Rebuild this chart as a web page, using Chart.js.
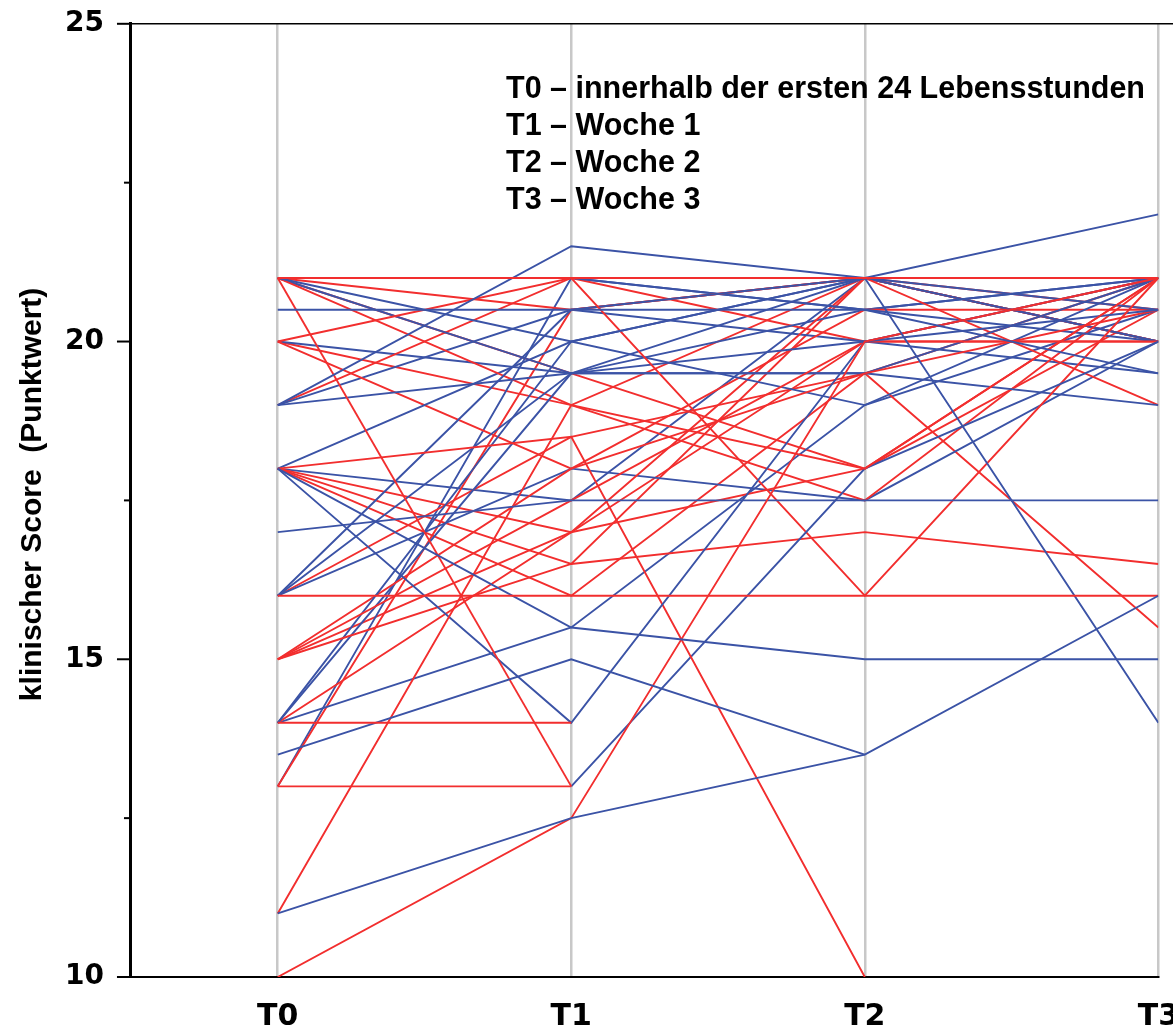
<!DOCTYPE html>
<html>
<head>
<meta charset="utf-8">
<script src="https://cdn.jsdelivr.net/npm/chart.js@4.4.0/dist/chart.umd.min.js"></script>
<style>
  html, body { margin: 0; padding: 0; background: #fff; overflow: hidden; }
  #wrap { position: absolute; left: 0; top: -20px; width: 1204px; height: 1077px; }
</style>
</head>
<body>
<div id="wrap"><canvas id="scoreChart"></canvas></div>
<script>
const timeLabels = ['T0', 'T1', 'T2', 'T3']
const yLabelTicks = [10, 15, 20, 25]
const yMinorTicks = [12.5, 17.5, 22.5]
const yTitle = 'klinischer Score  (Punktwert)'
const legendLines = [
  'T0 \u2013 innerhalb der ersten 24 Lebensstunden',
  'T1 \u2013 Woche 1',
  'T2 \u2013 Woche 2',
  'T3 \u2013 Woche 3'
]

// blue group, one entry per child (index = child), null = no value
const blueT0 = [11, 19, 20.5, 13.5, 18, 21, 17, 18, null, 16, 16, 14, 14, 19, 21, 18, 16, 19, 14, 21, 20, 13, 18]
const blueT1 = [12.5, 21.5, 20.5, 15, 15.5, 20, 17.5, 14, 13, 20.5, 19.5, 20, 19.5, 19.5, 21, 20, 18, 20.5, 15.5, 19.5, 19.5, 21, 17.5]
const blueT2 = [13.5, 21, 20.5, 13.5, 15, 21, 17.5, 20, 18, 21, 20, 21, 19.5, 19.5, 20.5, 19, 17.5, 20, 19, 20.5, 21, 20.5, 21]
const blueT3 = [16, 22, 19.5, null, 15, 14, 17.5, 21, 20, 21, 20.5, 20.5, 21, 19, 20, 21, 20, 19.5, 20.5, 21, 20, 21, 20]

// red group
const redT0 = [21, 16, 14, 13, 21, 10, 11, 18, 20, 15, 15, 15, 18, 21, 21, 14, 20, 18, 16, 19, 13, 21, 18, 15, 20]
const redT1 = [21, 16, 14, 13, 13, 12.5, 19, 18.5, 21, 16.5, 17.5, 18, 17, 20.5, 19, 17, 18, 16, 18.5, 21, 20.5, 19.5, 16.5, 17, 19]
const redT2 = [21, 16, null, null, null, 20, 18, 10, 16, 17, 20, 19.5, 18, 21, 17.5, 21, 20.5, 19.5, 19.5, 20, 21, 18, 21, 20, 21]
const redT3 = [21, 16, null, null, null, 21, 21, null, 21, 16.5, 20, 20.5, 21, 19, 21, 21, 20.5, 15.5, 21, 20, 20, 20.5, 20.5, 21, 20]

const blueColor = '#3b53a6'
const redColor = '#f22e2e'

function toPoints(cols, i){
  return cols.map((col, x) => ({ x: x, y: col[i] }))
}

let datasets = []
let n = Math.max(blueT0.length, redT0.length)
for (let i = 0; i < n; i++) {
  if (i < blueT0.length) {
    datasets.push({
      data: toPoints([blueT0, blueT1, blueT2, blueT3], i),
      borderColor: blueColor,
      borderWidth: 1.9,
      pointRadius: 0,
      spanGaps: false
    })
  }
  if (i < redT0.length) {
    datasets.push({
      data: toPoints([redT0, redT1, redT2, redT3], i),
      borderColor: redColor,
      borderWidth: 1.9,
      pointRadius: 0,
      spanGaps: false
    })
  }
}

// frame line on top, tick marks and title of the y axis, explanation text
const decor = {
  id: 'decor',
  afterDraw(chart) {
    const ctx = chart.ctx
    const area = chart.chartArea
    const y = chart.scales.y
    ctx.save()
    ctx.strokeStyle = '#000'
    ctx.lineWidth = 1.5
    ctx.beginPath()
    ctx.moveTo(area.left, area.top)
    ctx.lineTo(chart.width, area.top)
    ctx.stroke()

    ctx.lineWidth = 2
    yLabelTicks.forEach(v => {
      let py = y.getPixelForValue(v)
      ctx.beginPath()
      ctx.moveTo(area.left - 14, py)
      ctx.lineTo(area.left, py)
      ctx.stroke()
    })
    yMinorTicks.forEach(v => {
      let py = y.getPixelForValue(v)
      ctx.beginPath()
      ctx.moveTo(area.left - 7, py)
      ctx.lineTo(area.left, py)
      ctx.stroke()
    })

    ctx.fillStyle = '#000'
    ctx.font = 'bold 30.5px "Liberation Sans", Arial, sans-serif'
    ctx.textBaseline = 'middle'
    legendLines.forEach((line, k) => {
      ctx.fillText(line, 506, area.top + 66 + k * 37)
    })

    ctx.font = 'bold 30px "Liberation Sans", Arial, sans-serif'
    ctx.textAlign = 'center'
    ctx.translate(33, (area.top + area.bottom) / 2 - 6)
    ctx.rotate(-Math.PI / 2)
    ctx.fillText(yTitle, 0, 0)
    ctx.restore()
  }
}

const scoreChart = new Chart(document.getElementById('scoreChart'), {
  type: 'line',
  data: { datasets: datasets },
  options: {
    responsive: true,
    maintainAspectRatio: false,
    animation: false,
    layout: { padding: { top: -10, right: -17, left: 38, bottom: 0 } },
    plugins: { legend: { display: false }, tooltip: { enabled: false } },
    scales: {
      x: {
        type: 'linear',
        min: -0.5,
        max: 3,
        afterBuildTicks: axis => { axis.ticks = timeLabels.map((t, i) => ({ value: i })) },
        grid: { color: '#c8c8c8', lineWidth: 2.5, drawTicks: false },
        border: { color: '#000', width: 2 },
        ticks: {
          padding: 25,
          color: '#000',
          font: { family: '"DejaVu Sans", sans-serif', weight: 'bold', size: 30, lineHeight: 1 },
          callback: v => timeLabels[v]
        }
      },
      y: {
        min: 10,
        max: 25,
        afterBuildTicks: axis => { axis.ticks = yLabelTicks.map(v => ({ value: v })) },
        grid: { drawOnChartArea: false, drawTicks: false },
        border: { color: '#000', width: 3 },
        ticks: {
          padding: 27,
          color: '#000',
          font: { family: '"DejaVu Sans", sans-serif', weight: 'bold', size: 28 }
        }
      }
    }
  },
  plugins: [decor]
})
</script>
</body>
</html>
